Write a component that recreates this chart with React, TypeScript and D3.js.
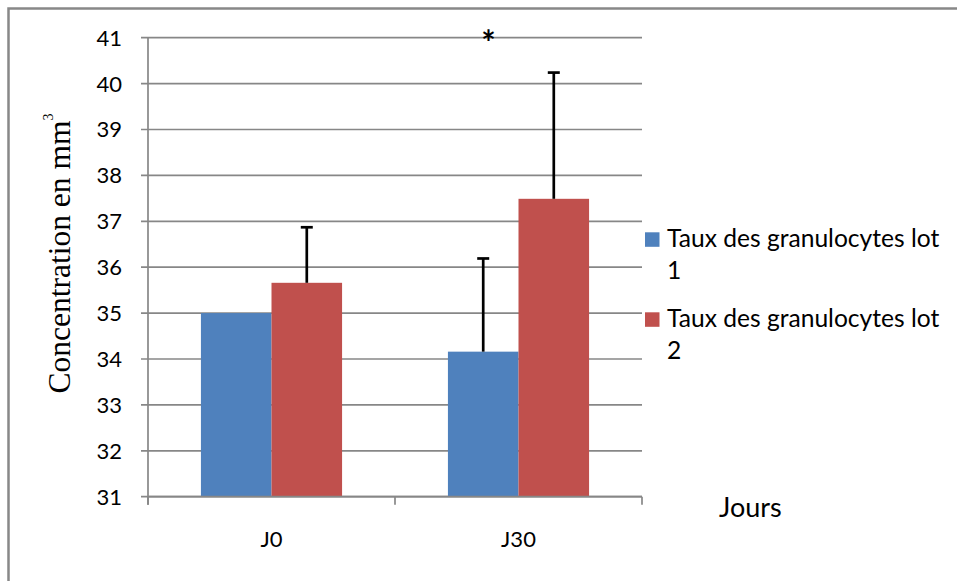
import React from "react";
import * as d3 from "d3";

const categories = ["J0", "J30"];
const seriesNames = ["Taux des granulocytes lot 1", "Taux des granulocytes lot 2"];
const lot1Values = [35.0, 34.16];
const lot2Values = [35.66, 37.49];
const lot1Errors = [0, 2.03];
const lot2Errors = [1.21, 2.75];
const yTicks = [31, 32, 33, 34, 35, 36, 37, 38, 39, 40, 41];
const seriesColors = ["#4F81BD", "#C0504D"];
const yLabel = "Concentration en mm";
const yLabelSup = "3";
const xTitle = "Jours";
const significance = "*";

const W = 957;
const H = 581;
const sans = "Lato, 'Open Sans', sans-serif";
const serif = "'Liberation Serif', 'Times New Roman', serif";

export default function App() {
  const plot = { left: 148, right: 642, top: 37.7, bottom: 496.7 };
  const y = d3.scaleLinear().domain([31, 41]).range([plot.bottom, plot.top]);
  const x = d3.scaleBand().domain(categories).range([plot.left, plot.right]).paddingInner(0).paddingOuter(0);
  const inner = d3
    .scaleBand()
    .domain(seriesNames)
    .range([0, x.bandwidth()])
    .paddingInner(0)
    .paddingOuter(0.75);
  const values = [lot1Values, lot2Values];
  const errors = [lot1Errors, lot2Errors];
  const grid = "#878787";
  const boundaries = [...categories.map((c) => x(c) as number), plot.right];

  return (
    <svg
      width={W}
      height={H}
      style={{ position: "absolute", left: 0, top: 0, background: "#fff" }}
    >
      <rect x={0} y={0} width={W} height={H} fill="#fff" />
      <rect x={8.5} y={8.5} width={1200} height={1200} fill="none" stroke="#888" strokeWidth={2.5} />

      {/* gridlines */}
      {yTicks.map((t) => (
        <line key={"g" + t} x1={plot.left - 7} x2={plot.right} y1={y(t)} y2={y(t)} stroke={grid} strokeWidth={1.7} />
      ))}
      {/* y axis */}
      <line x1={plot.left} x2={plot.left} y1={plot.top} y2={plot.bottom + 8} stroke={grid} strokeWidth={1.7} />
      {/* x category ticks */}
      {boundaries.map((b, i) => (
        <line key={"xt" + i} x1={b} x2={b} y1={plot.bottom} y2={plot.bottom + 8} stroke={grid} strokeWidth={1.7} />
      ))}

      {/* bars */}
      {categories.map((c, ci) =>
        seriesNames.map((s, si) => {
          const bx = (x(c) as number) + (inner(s) as number);
          const v = values[si][ci];
          return (
            <rect
              key={c + s}
              x={bx}
              y={y(v)}
              width={inner.bandwidth()}
              height={y(31) - y(v)}
              fill={seriesColors[si]}
            />
          );
        })
      )}
      {/* x axis baseline over bars */}
      <line x1={plot.left} x2={plot.right} y1={plot.bottom} y2={plot.bottom} stroke={grid} strokeWidth={1.7} />

      {/* error bars */}
      {categories.map((c, ci) =>
        seriesNames.map((s, si) => {
          const e = errors[si][ci];
          if (!e) return null;
          const cx = (x(c) as number) + (inner(s) as number) + inner.bandwidth() / 2;
          const v = values[si][ci];
          return (
            <g key={"e" + c + s}>
              <line x1={cx} x2={cx} y1={y(v)} y2={y(v + e)} stroke="#000" strokeWidth={2.7} />
              <line x1={cx - 6} x2={cx + 6} y1={y(v + e)} y2={y(v + e)} stroke="#000" strokeWidth={2.7} />
            </g>
          );
        })
      )}

      {/* significance */}
      <text x={488.5} y={55} textAnchor="middle" fontFamily={sans} fontSize={34} fontWeight={700} fill="#000">
        {significance}
      </text>

      {/* y tick labels */}
      {yTicks.map((t) => (
        <text key={"yl" + t} x={122} y={y(t)} dy="0.36em" textAnchor="end" fontFamily={sans} fontSize={22} fill="#000">
          {t}
        </text>
      ))}

      {/* x labels */}
      {categories.map((c) => (
        <text
          key={"xl" + c}
          x={(x(c) as number) + x.bandwidth() / 2}
          y={546.7}
          textAnchor="middle"
          fontFamily={sans}
          fontSize={22}
          fill="#000"
        >
          {c}
        </text>
      ))}

      <text x={719} y={516.7} fontFamily={sans} fontSize={27} fill="#000">
        {xTitle}
      </text>

      {/* y axis title */}
      <text
        transform={`translate(70, 253.5) rotate(-90)`}
        textAnchor="middle"
        fontFamily={serif}
        fontSize={31.5}
        fill="#000"
      >
        {yLabel}
        <tspan dy={-17} fontSize={14}>
          {yLabelSup}
        </tspan>
      </text>

      {/* legend */}
      {seriesNames.map((s, si) => {
        const idx = s.lastIndexOf(" ");
        const lines = [s.slice(0, idx), s.slice(idx + 1)];
        const top = 232.3 + si * 80;
        return (
          <g key={"lg" + s}>
            <rect x={645} y={top} width={14.5} height={14.5} fill={seriesColors[si]} />
            {lines.map((ln, li) => (
              <text key={li} x={667} y={top + 14.4 + li * 32.5} fontFamily={sans} fontSize={24.6} fill="#000">
                {ln}
              </text>
            ))}
          </g>
        );
      })}
    </svg>
  );
}
